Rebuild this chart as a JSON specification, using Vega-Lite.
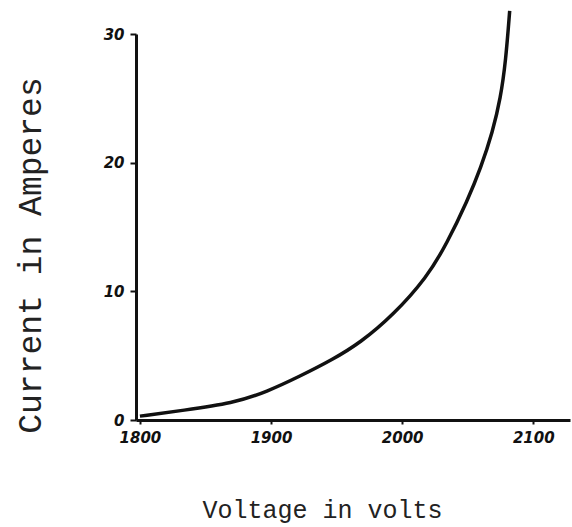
{
  "$schema": "https://vega.github.io/schema/vega-lite/v6.json",
  "autosize": "none",
  "padding": {"left": 136, "top": 34, "right": 2, "bottom": 107},
  "width": 434,
  "height": 386,
  "background": "white",
  "config": {"view": {"stroke": null}},
  "data": {"values": [
    {"voltage": 1800, "current": 0.3},
    {"voltage": 1833, "current": 0.75},
    {"voltage": 1871, "current": 1.3},
    {"voltage": 1897, "current": 2.2},
    {"voltage": 1922, "current": 3.4},
    {"voltage": 1947, "current": 4.7},
    {"voltage": 1968, "current": 6.0},
    {"voltage": 1993, "current": 8.14},
    {"voltage": 2019, "current": 11.1},
    {"voltage": 2034, "current": 13.7},
    {"voltage": 2050, "current": 17.1},
    {"voltage": 2060, "current": 19.6},
    {"voltage": 2069, "current": 22.4},
    {"voltage": 2075, "current": 25.0},
    {"voltage": 2079, "current": 27.9},
    {"voltage": 2082, "current": 31.8}
  ]},
  "mark": {"type": "line", "color": "#111", "strokeWidth": 3.5, "interpolate": "basis", "clip": false},
  "encoding": {
    "x": {
      "field": "voltage", "type": "quantitative",
      "scale": {"domain": [1797, 2128], "nice": false, "zero": false},
      "axis": {
        "values": [1800, 1900, 2000, 2100],
        "format": "d",
        "grid": false,
        "domainColor": "#111", "domainWidth": 3,
        "tickColor": "#111", "tickWidth": 2, "tickSize": 4,
        "labelFont": "DejaVu Sans", "labelFontStyle": "italic", "labelFontWeight": "bold",
        "labelFontSize": 15, "labelColor": "#111", "labelDx": 14, "labelPadding": 6,
        "title": "Voltage in volts",
        "titleFont": "Liberation Mono", "titleFontWeight": "normal", "titleFontSize": 25,
        "titleColor": "#222", "titleX": 186, "titleY": 97, "titleAnchor": "middle",
        "titleAlign": "center", "titleBaseline": "alphabetic"
      }
    },
    "y": {
      "field": "current", "type": "quantitative",
      "scale": {"domain": [0, 30], "nice": false},
      "axis": {
        "values": [0, 10, 20, 30],
        "format": "d",
        "grid": false,
        "domainColor": "#111", "domainWidth": 3,
        "tickColor": "#111", "tickWidth": 2, "tickSize": 6,
        "labelFont": "DejaVu Sans", "labelFontStyle": "italic", "labelFontWeight": "bold",
        "labelFontSize": 15, "labelColor": "#111", "labelPadding": 6, "labelBaseline": "middle",
        "title": "Current in Amperes",
        "titleFont": "Liberation Mono", "titleFontWeight": "normal", "titleFontSize": 33,
        "titleColor": "#222", "titleAngle": -90, "titleX": -96, "titleY": 221,
        "titleAlign": "center", "titleBaseline": "alphabetic"
      }
    }
  }
}
